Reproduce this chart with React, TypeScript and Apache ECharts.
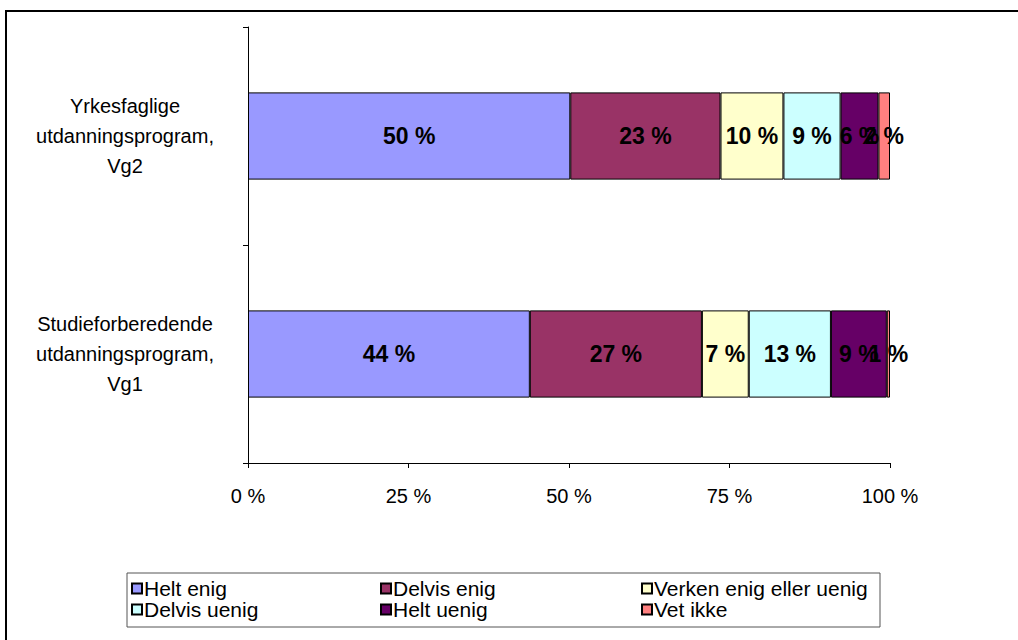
import React, { useEffect, useRef } from "react";
import * as echarts from "echarts";

const categories = [
  "Studieforberedende\nutdanningsprogram,\nVg1",
  "Yrkesfaglige\nutdanningsprogram,\nVg2",
];
const seriesNames = [
  "Helt enig",
  "Delvis enig",
  "Verken enig eller uenig",
  "Delvis uenig",
  "Helt uenig",
  "Vet ikke",
];
const heltEnig = [43.9, 50.2];
const delvisEnig = [26.8, 23.4];
const verken = [7.3, 9.8];
const delvisUenig = [12.8, 8.9];
const heltUenig = [8.7, 5.9];
const vetIkke = [0.5, 1.8];
const xTicks = [0, 25, 50, 75, 100];
const colors = ["#9999FF", "#993366", "#FFFFCC", "#CCFFFF", "#660066", "#FF8080"];

const FONT = "Liberation Sans, Arial, sans-serif";

export default function App() {
  const ref = useRef<HTMLDivElement>(null);
  useEffect(() => {
    const chart = echarts.init(ref.current!, undefined, { renderer: "svg" });
    const values = [heltEnig, delvisEnig, verken, delvisUenig, heltUenig, vetIkke];
    const legendCol = (names: string[], left: number) => ({
      show: true,
      orient: "vertical",
      left,
      top: 578,
      itemWidth: 10,
      itemHeight: 10,
      itemGap: 0,
      icon: "rect",
      data: names,
      padding: 0,
      textStyle: {
        fontFamily: FONT,
        fontSize: 21,
        lineHeight: 20,
        color: "#000",
        padding: [0, 0, 0, -3],
      },
      selectedMode: false,
    });
    chart.setOption({
      animation: false,
      textStyle: { fontFamily: FONT },
      graphic: [
        {
          type: "rect",
          shape: { x: 6, y: 11, width: 1100, height: 700 },
          style: { fill: "none", stroke: "#000", lineWidth: 2 },
          silent: true,
        },
        {
          type: "rect",
          shape: { x: 127, y: 573, width: 753, height: 54 },
          style: { fill: "#fff", stroke: "#555", lineWidth: 1 },
          silent: true,
          z: -1,
        },
      ],
      legend: [
        legendCol([seriesNames[0], seriesNames[3]], 131),
        legendCol([seriesNames[1], seriesNames[4]], 380),
        legendCol([seriesNames[2], seriesNames[5]], 641),
      ],
      grid: { left: 248, right: 128, top: 27, bottom: 177, containLabel: false },
      xAxis: {
        type: "value",
        min: xTicks[0],
        max: xTicks[xTicks.length - 1],
        interval: 25,
        axisLine: { show: true, lineStyle: { color: "#000", width: 1 } },
        axisTick: { show: true, length: 5, lineStyle: { color: "#000" } },
        splitLine: { show: false },
        axisLabel: {
          formatter: "{value} %",
          color: "#000",
          fontSize: 20,
          fontFamily: FONT,
          margin: 23,
        },
      },
      yAxis: {
        type: "category",
        data: categories,
        axisLine: { show: true, lineStyle: { color: "#000", width: 1 } },
        axisTick: { show: true, length: 5, lineStyle: { color: "#000" } },
        axisLabel: {
          color: "#000",
          fontSize: 20,
          fontFamily: FONT,
          align: "center",
          margin: 123,
          lineHeight: 30,
        },
      },
      series: seriesNames.map((name, i) => ({
        name,
        type: "bar",
        stack: "total",
        barCategoryGap: "60%",
        data: values[i],
        itemStyle: { color: colors[i], borderColor: "#000", borderWidth: 1 },
        label: {
          show: true,
          position: "inside",
          color: "#000",
          fontWeight: "bold",
          fontSize: 23,
          fontFamily: FONT,
          formatter: (p: any) => Math.round(p.value) + " %",
        },
      })),
    });
    return () => chart.dispose();
  }, []);
  return <div ref={ref} style={{ width: 1018, height: 640, position: "absolute", left: 0, top: 0 }} />;
}
